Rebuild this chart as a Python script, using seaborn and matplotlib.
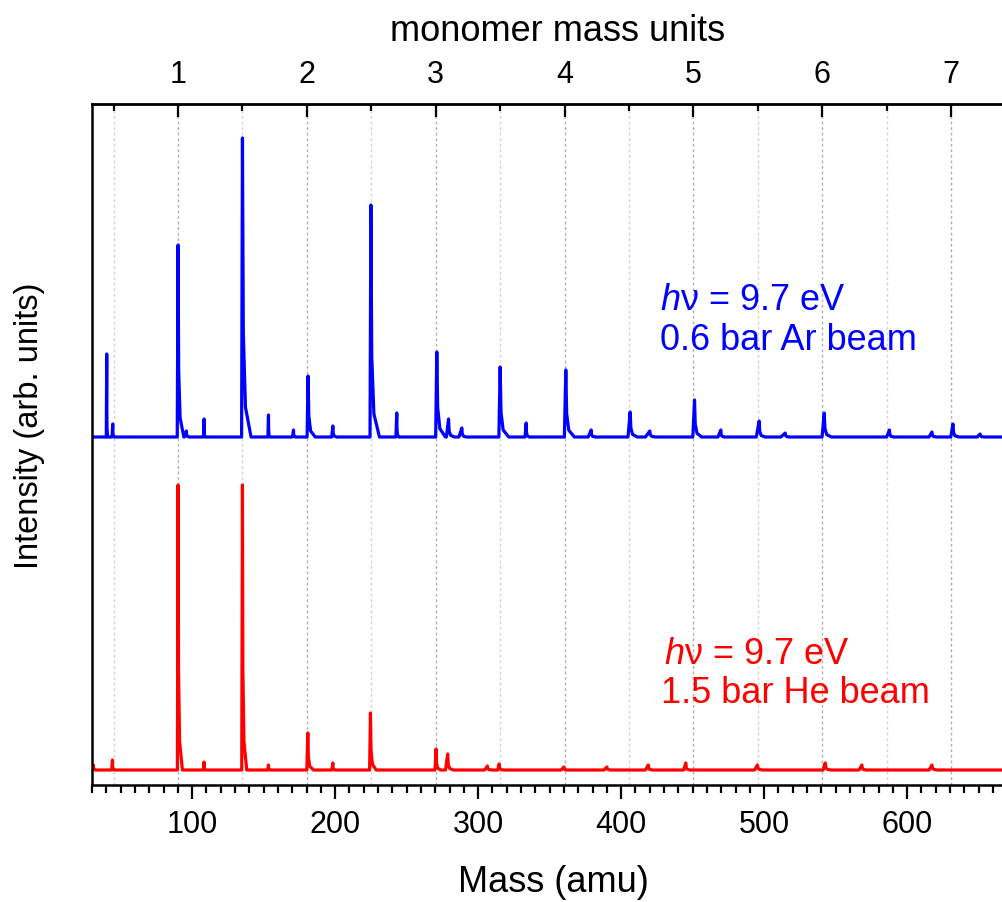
import numpy as np
import pandas as pd
import seaborn as sns
import matplotlib.pyplot as plt
from matplotlib.ticker import MultipleLocator

sns.set_style('ticks')
plt.rcParams['font.family'] = ['Liberation Sans', 'DejaVu Sans']
plt.rcParams['mathtext.fontset'] = 'custom'
plt.rcParams['mathtext.it'] = 'Liberation Sans:italic'
plt.rcParams['mathtext.rm'] = 'Liberation Sans'
plt.rcParams['text.color'] = 'black'
plt.rcParams['axes.labelcolor'] = 'black'
plt.rcParams['xtick.color'] = 'black'
plt.rcParams['ytick.color'] = 'black'

# monomer mass (amu) used for the top axis
MONOMER = 90.1

# peaks: centre (amu), height (arb.), left / right width (amu)
ar_centre = [40.3, 44.5, 90.2, 96.0, 108.4, 135.2, 153.4, 170.9, 181.1, 198.4,
             225.0, 243.1, 271.1, 279.3, 288.6, 315.4, 333.6, 361.3, 379.0, 406.3,
             420.0, 451.3, 469.7, 496.5, 514.7, 542.0, 587.6, 617.3, 632.0, 651.0]
ar_height = [83, 13, 192, 6, 18, 299, 22, 7, 61, 11,
             232, 24, 85, 18, 9, 70, 14, 67, 7, 25,
             6, 37, 7, 16, 4, 24, 7, 5, 13, 3]
ar_left = [0.3, 0.5, 0.6, 1.5, 0.4, 0.6, 0.4, 0.8, 0.7, 0.8,
           0.6, 0.6, 0.8, 1.5, 2.0, 0.9, 0.8, 1.0, 2.0, 1.5,
           3.0, 1.2, 2.0, 2.0, 3.0, 1.5, 2.0, 2.0, 1.5, 2.0]
ar_right = [0.6, 1.0, 4.0, 2.0, 0.8, 6.0, 1.0, 1.2, 5.0, 2.5,
            6.0, 1.5, 6.0, 4.0, 3.0, 6.0, 2.0, 6.0, 3.0, 5.0,
            4.0, 5.0, 2.5, 4.0, 3.0, 5.0, 3.0, 3.0, 4.0, 3.0]

he_centre = [31.0, 44.3, 90.2, 108.4, 135.2, 153.4, 180.9, 198.4, 224.7, 270.6,
             278.7, 306.5, 314.7, 360.0, 390.0, 419.0, 445.2, 495.3, 542.7, 568.3, 617.3]
he_height = [5, 10, 285, 8, 285, 5, 37, 7, 57, 21,
             16, 4, 6, 3, 3, 5, 7, 5, 7, 5, 5]
he_left = [0.5, 0.5, 0.5, 0.4, 0.5, 0.5, 0.7, 0.6, 0.6, 0.8,
           1.5, 2.0, 1.0, 2.0, 2.0, 2.0, 1.5, 2.0, 1.5, 2.0, 2.0]
he_right = [1.5, 1.0, 3.0, 0.8, 3.0, 1.0, 4.0, 1.5, 4.0, 3.0,
            4.0, 3.0, 3.0, 2.0, 3.0, 3.0, 3.0, 4.0, 4.0, 3.0, 4.0]

# vertical offsets of the two traces
ar_offset = 348
he_offset = 15

mass_range = (30, 667)
bottom_major = [100, 200, 300, 400, 500, 600]
top_major = [1, 2, 3, 4, 5, 6, 7]
top_minor = [0.5, 1.5, 2.5, 3.5, 4.5, 5.5, 6.5]


def spectrum(centre, height, left, right, offset):
    xs = [mass_range[0]]
    ys = [offset]
    for c, h, wl, wr in zip(centre, height, left, right):
        xs += [c - wl, c, c + wr * 0.1, c + wr * 0.35, c + wr]
        ys += [offset, offset + h, offset + h * 0.35, offset + h * 0.1, offset]
    xs.append(mass_range[1])
    ys.append(offset)
    return xs, ys


ar_x, ar_y = spectrum(ar_centre, ar_height, ar_left, ar_right, ar_offset)
he_x, he_y = spectrum(he_centre, he_height, he_left, he_right, he_offset)

df = pd.concat([
    pd.DataFrame({'mass': ar_x, 'intensity': ar_y, 'trace': 'Ar'}),
    pd.DataFrame({'mass': he_x, 'intensity': he_y, 'trace': 'He'}),
])

fig = plt.figure(figsize=(10.03, 9.02), dpi=100)
ax = fig.add_axes([92 / 1003, 1 - 785 / 902, 1 - 92 / 1003, 681 / 902])

# dotted guides at every half monomer
for n in top_minor:
    ax.axvline(n * MONOMER, color='#d4d4d4', lw=1, ls=(0, (2, 2)), zorder=0)
for n in top_major:
    ax.axvline(n * MONOMER, color='#b0b0b0', lw=1, ls=(0, (2, 2)), zorder=0)

sns.lineplot(data=df, x='mass', y='intensity', hue='trace',
             palette={'Ar': '#0000ff', 'He': '#ff0000'},
             estimator=None, sort=False, legend=False, lw=2.3, ax=ax)

ax.set_xlim(*mass_range)
ax.set_ylim(0, 681)
ax.set_yticks([])
ax.set_xticks(bottom_major)
ax.xaxis.set_minor_locator(MultipleLocator(10))
ax.tick_params(axis='x', which='major', direction='out', length=10, width=1.6,
               labelsize=22, pad=8)
ax.tick_params(axis='x', which='minor', direction='out', length=6, width=1.6)
ax.tick_params(axis='x', which='both', top=False)
ax.set_xlabel('Mass (amu)', fontsize=26, labelpad=18, x=0.507)
ax.set_ylabel('Intensity (arb. units)', fontsize=23.5, labelpad=34, y=0.527)
ax.spines['right'].set_visible(False)
for s in ['left', 'bottom', 'top']:
    ax.spines[s].set_linewidth(1.8)
    ax.spines[s].set_color('black')

secax = ax.secondary_xaxis('top', functions=(lambda m: m / MONOMER, lambda n: n * MONOMER))
secax.set_xticks(top_major)
secax.set_xticks(top_minor, minor=True)
secax.tick_params(axis='x', which='major', direction='in', length=9, width=1.6,
                  labelsize=22, pad=10)
secax.tick_params(axis='x', which='minor', direction='in', length=5, width=1.6)
secax.spines['top'].set_linewidth(1.8)
secax.set_xlabel('monomer mass units', fontsize=26, labelpad=14, x=0.511)

ax.text(0.624, 0.698, '$h$\u03bd = 9.7 eV', color='#0000ff', fontsize=26, transform=ax.transAxes)
ax.text(0.623, 0.639, '0.6 bar Ar beam', color='#0000ff', fontsize=26, transform=ax.transAxes)
ax.text(0.628, 0.178, '$h$\u03bd = 9.7 eV', color='#ff0000', fontsize=26, transform=ax.transAxes)
ax.text(0.625, 0.120, '1.5 bar He beam', color='#ff0000', fontsize=26, transform=ax.transAxes)

fig.savefig('out.png', dpi=100)
